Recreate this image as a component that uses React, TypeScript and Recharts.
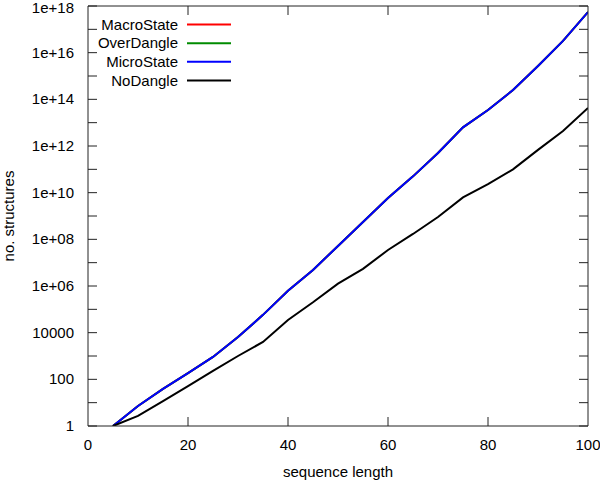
import React from "react";
import { LineChart, Line, XAxis, YAxis } from "recharts";

const lengths = [5, 10, 15, 20, 25, 30, 35, 40, 45, 50, 55, 60, 65, 70, 75, 80, 85, 90, 95, 100];
const microState = [1, 7.2, 39, 186, 912, 6500, 5.8e4, 6.2e5, 4.9e6, 5.2e7, 5.5e8, 5.9e9, 5.0e10, 5.0e11, 6.3e12, 3.5e13, 2.5e14, 2.7e15, 3.2e16, 5.5e17];
const macroState = [1, 7.2, 39, 186, 912, 6500, 5.8e4, 6.2e5, 4.9e6, 5.2e7, 5.5e8, 5.9e9, 5.0e10, 5.0e11, 6.3e12, 3.5e13, 2.5e14, 2.7e15, 3.2e16, 5.5e17];
const overDangle = [1, 7.2, 39, 186, 912, 6500, 5.8e4, 6.2e5, 4.9e6, 5.2e7, 5.5e8, 5.9e9, 5.0e10, 5.0e11, 6.3e12, 3.5e13, 2.5e14, 2.7e15, 3.2e16, 5.5e17];
const noDangle = [1, 2.7, 11.7, 51, 229, 1000, 4000, 3.5e4, 2.0e5, 1.26e6, 5.4e6, 3.5e7, 1.7e8, 9.1e8, 6.3e9, 2.3e10, 1.0e11, 6.8e11, 4.4e12, 4.3e13];

const xTicks = [0, 20, 40, 60, 80, 100];
const yExponents = [0, 1, 2, 3, 4, 5, 6, 7, 8, 9, 10, 11, 12, 13, 14, 15, 16, 17, 18];
const yTicks = yExponents.map((e) => Math.pow(10, e));

const seriesNames = ["MacroState", "OverDangle", "MicroState", "NoDangle"];
const seriesColors = ["#ff0000", "#008b00", "#0000ff", "#000000"];

const data = lengths.map((len, i) => ({
  len,
  MacroState: macroState[i],
  OverDangle: overDangle[i],
  MicroState: microState[i],
  NoDangle: noDangle[i],
}));

const FONT = "'Liberation Sans', Arial, sans-serif";
const TICK_LEN = 9;
const TICK_COLOR = "#222";

function expOf(v: number) {
  return Math.round(Math.log10(v));
}

function yLabel(v: number) {
  const e = expOf(v);
  if (e < 6) return String(Math.round(v));
  return "1e+" + (e < 10 ? "0" + e : String(e));
}

const BottomTick = (props: any) => {
  const { x, y, payload } = props;
  const v = payload.value;
  const inner = v !== 0 && v !== 100;
  return (
    <g>
      {inner && <line x1={x} x2={x} y1={y} y2={y - TICK_LEN} stroke={TICK_COLOR} strokeWidth={1} />}
      <text x={x} y={y + 24} textAnchor="middle" fontFamily={FONT} fontSize={15} fill="#000">
        {v}
      </text>
    </g>
  );
};

const TopTick = (props: any) => {
  const { x, y, payload } = props;
  const v = payload.value;
  if (v === 0 || v === 100) return <g />;
  return <line x1={x} x2={x} y1={y} y2={y + TICK_LEN} stroke={TICK_COLOR} strokeWidth={1} />;
};

const LeftTick = (props: any) => {
  const { x, y, payload } = props;
  const v = payload.value;
  const e = expOf(v);
  const baseline = Math.max(y + 5, 12.5);
  return (
    <g>
      <line x1={x} x2={x + TICK_LEN} y1={y} y2={y} stroke={TICK_COLOR} strokeWidth={1} />
      {e % 2 === 0 && (
        <text x={x - 14} y={baseline} textAnchor="end" fontFamily={FONT} fontSize={15} fill="#000">
          {yLabel(v)}
        </text>
      )}
    </g>
  );
};

const RightTick = (props: any) => {
  const { x, y } = props;
  return <line x1={x} x2={x - TICK_LEN} y1={y} y2={y} stroke={TICK_COLOR} strokeWidth={1} />;
};

export default function App() {
  return (
    <div style={{ position: "absolute", left: 0, top: 0, width: 600, height: 481, background: "#fff" }}>
      <LineChart
        width={600}
        height={481}
        data={data}
        margin={{ top: 0, right: 0, bottom: 0, left: 0 }}
      >
        <XAxis
          dataKey="len"
          type="number"
          domain={[0, 100]}
          ticks={xTicks}
          height={55}
          tickSize={0}
          tickMargin={0}
          tickLine={false}
          axisLine={{ stroke: TICK_COLOR, strokeWidth: 1 }}
          tick={<BottomTick />}
          interval={0}
          allowDataOverflow
        />
        <XAxis
          xAxisId="top"
          orientation="top"
          dataKey="len"
          type="number"
          domain={[0, 100]}
          ticks={xTicks}
          height={6}
          tickSize={0}
          tickMargin={0}
          tickLine={false}
          axisLine={{ stroke: TICK_COLOR, strokeWidth: 1 }}
          tick={<TopTick />}
          interval={0}
          allowDataOverflow
        />
        <YAxis
          type="number"
          scale="log"
          domain={[1, 1e18]}
          ticks={yTicks}
          width={88}
          tickSize={0}
          tickMargin={0}
          tickLine={false}
          axisLine={{ stroke: TICK_COLOR, strokeWidth: 1 }}
          tick={<LeftTick />}
          interval={0}
          allowDataOverflow
        />
        <YAxis
          yAxisId="right"
          orientation="right"
          type="number"
          scale="log"
          domain={[1, 1e18]}
          ticks={yTicks}
          width={12}
          tickSize={0}
          tickMargin={0}
          tickLine={false}
          axisLine={{ stroke: TICK_COLOR, strokeWidth: 1 }}
          tick={<RightTick />}
          interval={0}
          allowDataOverflow
        />
        {seriesNames.map((name, i) => (
          <Line
            key={name}
            dataKey={name}
            type="linear"
            stroke={seriesColors[i]}
            strokeWidth={2}
            dot={false}
            activeDot={false}
            isAnimationActive={false}
          />
        ))}
      </LineChart>
      <svg width={240} height={95} style={{ position: "absolute", left: 0, top: 0 }}>
        {seriesNames.map((name, i) => {
          const cy = 24.5 + i * 18.67;
          return (
            <g key={name}>
              <text x={178} y={cy} dy={5} textAnchor="end" fontFamily={FONT} fontSize={15} fill="#000">
                {name}
              </text>
              <line x1={187} x2={231} y1={cy} y2={cy} stroke={seriesColors[i]} strokeWidth={2} />
            </g>
          );
        })}
      </svg>
      <div
        style={{
          position: "absolute",
          left: 0,
          top: 462,
          width: 600,
          paddingLeft: 88,
          paddingRight: 12,
          boxSizing: "border-box",
          textAlign: "center",
          fontFamily: FONT,
          fontSize: 15,
          lineHeight: "20px",
        }}
      >
        sequence length
      </div>
      <svg width={30} height={481} style={{ position: "absolute", left: 0, top: 0 }}>
        <text
          x={8}
          y={216}
          transform="rotate(-90 8 216)"
          textAnchor="middle"
          dominantBaseline="central"
          fontFamily={FONT}
          fontSize={15}
          fill="#000"
        >
          no. structures
        </text>
      </svg>
    </div>
  );
}
